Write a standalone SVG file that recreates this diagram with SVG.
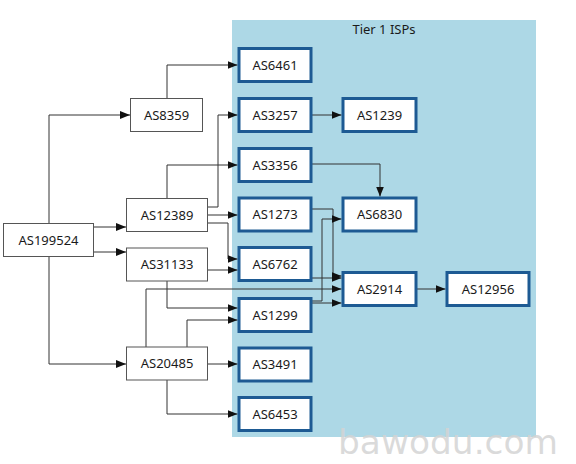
<svg xmlns="http://www.w3.org/2000/svg" width="576" height="464" viewBox="0 0 576 464">
<style>
.t{font-family:"Noto Sans","Open Sans","DejaVu Sans",sans-serif;font-size:13px;fill:#1a1a1a;text-anchor:middle}
.b{fill:#fff;stroke:#1d5a93;stroke-width:3}
.w{fill:#fff;stroke:#555;stroke-width:1}
.e{fill:none;stroke:#333;stroke-width:1;marker-end:url(#a)}
</style>
<defs>
<marker id="a" markerUnits="userSpaceOnUse" markerWidth="11" markerHeight="9" refX="10" refY="4.5" orient="auto">
<path d="M0,0.5 L10,4.5 L0,8.5 z" fill="#111"/>
</marker>
</defs>
<rect width="576" height="464" fill="#fff"/>
<g id="cluster">
<rect x="232" y="20" width="304" height="417" fill="#add8e6"/>
<text class="t" x="384" y="34">Tier 1 ISPs</text>
</g>
<g id="edges">
<path class="e" d="M49,223 V115 H130"/>
<path class="e" d="M93,227 H126"/>
<path class="e" d="M93,252 H126"/>
<path class="e" d="M49,256 V364 H126"/>
<path class="e" d="M167,98 V65 H237.5"/>
<path class="e" d="M207,207 H218 V115 H237.5"/>
<path class="e" d="M167,198 V165 H237.5"/>
<path class="e" d="M207,215 H237.5"/>
<path class="e" d="M207,223 H228 V259 H237.5"/>
<path class="e" d="M207,270 H237.5"/>
<path class="e" d="M167,281 V308 H237.5"/>
<path class="e" d="M187,347 V320 H237.5"/>
<path class="e" d="M207,364 H237.5"/>
<path class="e" d="M167,380 V414 H237.5"/>
<path class="e" d="M146,347 V289 H341.5"/>
<path class="e" d="M311,209 H333 V276 H341.5"/>
<path class="e" d="M311,278 H341.5"/>
<path class="e" d="M311,301 H322 V219 H341.5"/>
<path class="e" d="M311,303 H341.5"/>
<path class="e" d="M311,164 H380 V196.5"/>
<path class="e" d="M311,115 H341.5"/>
<path class="e" d="M416,289 H445.5"/>
</g>
<g id="AS199524"><rect class="w" x="3.5" y="223.5" width="90" height="33"/><text class="t" x="48.5" y="244.5">AS199524</text></g>
<g id="AS8359"><rect class="w" x="130.5" y="98.5" width="72" height="33"/><text class="t" x="166.5" y="119.5">AS8359</text></g>
<g id="AS12389"><rect class="w" x="126.5" y="198.5" width="81" height="33"/><text class="t" x="167" y="219.5">AS12389</text></g>
<g id="AS31133"><rect class="w" x="126.5" y="248" width="81" height="33"/><text class="t" x="167" y="269">AS31133</text></g>
<g id="AS20485"><rect class="w" x="126.5" y="347" width="81" height="33"/><text class="t" x="167" y="368">AS20485</text></g>
<g id="AS6461"><rect class="b" x="239" y="48.5" width="72" height="33"/><text class="t" x="275" y="69.5">AS6461</text></g>
<g id="AS3257"><rect class="b" x="239" y="98.5" width="72" height="33"/><text class="t" x="275" y="119.5">AS3257</text></g>
<g id="AS3356"><rect class="b" x="239" y="148.5" width="72" height="33"/><text class="t" x="275" y="169.5">AS3356</text></g>
<g id="AS1273"><rect class="b" x="239" y="198" width="72" height="33"/><text class="t" x="275" y="219">AS1273</text></g>
<g id="AS6762"><rect class="b" x="239" y="247.5" width="72" height="33"/><text class="t" x="275" y="268.5">AS6762</text></g>
<g id="AS1299"><rect class="b" x="239" y="298.5" width="72" height="33"/><text class="t" x="275" y="319.5">AS1299</text></g>
<g id="AS3491"><rect class="b" x="239" y="348" width="72" height="33"/><text class="t" x="275" y="369">AS3491</text></g>
<g id="AS6453"><rect class="b" x="239" y="397.5" width="72" height="33"/><text class="t" x="275" y="418.5">AS6453</text></g>
<g id="AS1239"><rect class="b" x="343" y="98.5" width="73" height="33"/><text class="t" x="379.5" y="119.5">AS1239</text></g>
<g id="AS6830"><rect class="b" x="343" y="198" width="73" height="33"/><text class="t" x="379.5" y="219">AS6830</text></g>
<g id="AS2914"><rect class="b" x="343" y="272.5" width="73" height="33"/><text class="t" x="379.5" y="293.5">AS2914</text></g>
<g id="AS12956"><rect class="b" x="447" y="272.5" width="82" height="33"/><text class="t" x="488" y="293.5">AS12956</text></g>
<text x="338" y="454" font-family="'DejaVu Sans','Liberation Sans',sans-serif" font-size="34" fill="#d4d4d4" fill-opacity="0.85" textLength="220" lengthAdjust="spacingAndGlyphs">bawodu.com</text>
</svg>
